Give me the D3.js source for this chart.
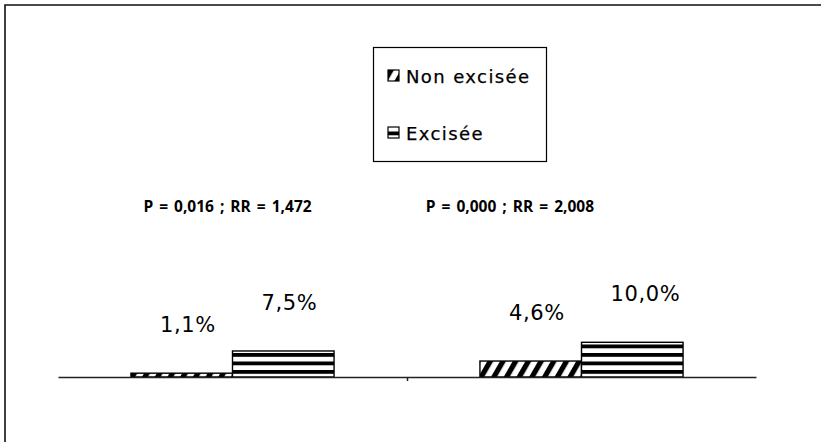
<!DOCTYPE html>
<html>
<head>
<meta charset="utf-8">
<script src="https://cdn.jsdelivr.net/npm/d3@7"></script>
<style>
  html, body { margin: 0; padding: 0; background: #fff; }
  svg { display: block; }
</style>
</head>
<body>
<svg id="chart" width="821" height="442"></svg>
<script>
// Prevalence by group, two series
const groups = ["Groupe A", "Groupe B"];
const seriesNames = ["Non excisée", "Excisée"];
const nonExcisee = [1.1, 4.6];
const excisee = [7.5, 10.0];
const statLabels = ["P = 0,016 ; RR = 1,472", "P = 0,000 ; RR = 2,008"];

const svg = d3.select("#chart");
const W = 821, H = 442;

// outer frame (top and left edges visible)
svg.append("path")
  .attr("d", `M5,${H + 5} L5,5 L${W + 5},5`)
  .attr("fill", "none").attr("stroke", "#111").attr("stroke-width", 1.6);

// patterns
const defs = svg.append("defs");
const diag = defs.append("pattern")
  .attr("id", "diag").attr("patternUnits", "userSpaceOnUse")
  .attr("width", 11).attr("height", 20)
  .attr("patternTransform", "rotate(30)");
diag.append("rect").attr("width", 11).attr("height", 20).attr("fill", "#fff");
diag.append("rect").attr("width", 5.2).attr("height", 20).attr("fill", "#000");

const horiz = defs.append("pattern")
  .attr("id", "horiz").attr("patternUnits", "userSpaceOnUse")
  .attr("width", 10).attr("height", 8.5).attr("y", 4.5);
horiz.append("rect").attr("width", 10).attr("height", 8.5).attr("fill", "#fff");
horiz.append("rect").attr("width", 10).attr("height", 3.8).attr("fill", "#000");

const fills = { "Non excisée": "url(#diag)", "Excisée": "url(#horiz)" };

// scales
const x0 = d3.scaleBand().domain(groups).range([58, 756])
  .paddingInner(0.418).paddingOuter(0.209);
const x1 = d3.scaleBand().domain(seriesNames).range([0, x0.bandwidth()]);
const y = d3.scaleLinear().domain([0, 40]).range([377, 238.2]);

const data = groups.map((g, i) => ({
  group: g,
  values: [
    { key: "Non excisée", value: nonExcisee[i] },
    { key: "Excisée", value: excisee[i] }
  ]
}));

const fr = d3.formatLocale({ decimal: ",", thousands: " ", grouping: [3], currency: ["", " €"] });
const fmt = v => fr.format(".1f")(v) + "%";

// bars
const gGroups = svg.selectAll("g.grp").data(data).join("g")
  .attr("class", "grp")
  .attr("transform", d => `translate(${x0(d.group)},0)`);

gGroups.selectAll("rect").data(d => d.values).join("rect")
  .attr("x", d => x1(d.key))
  .attr("y", d => y(d.value))
  .attr("width", x1.bandwidth())
  .attr("height", d => y(0) - y(d.value))
  .attr("fill", d => fills[d.key])
  .attr("stroke", "#000")
  .attr("stroke-width", 1.4);

// value labels
gGroups.selectAll("text.val").data(d => d.values).join("text")
  .attr("class", "val")
  .attr("x", d => x1(d.key) + 29)
  .attr("y", d => y(d.value) - 41)
  .attr("font-family", "DejaVu Sans")
  .attr("font-size", 21)
  .attr("letter-spacing", 0.6)
  .attr("fill", "#000")
  .text(d => fmt(d.value));

// category axis: baseline with a tick between groups
const xAxisScale = d3.scaleLinear().domain([0, groups.length]).range(x0.range());
svg.append("g")
  .attr("transform", `translate(0,${y(0)})`)
  .call(d3.axisBottom(xAxisScale).tickValues([1]).tickSize(4).tickSizeOuter(0).tickFormat(""))
  .call(g => g.selectAll("path, line").attr("stroke", "#222").attr("stroke-width", 1.5));

// statistics annotations
const statX = [x0(groups[0]) + x0.bandwidth() / 2 - 5, x0(groups[1]) + 30];
svg.selectAll("text.stat").data(statLabels).join("text")
  .attr("class", "stat")
  .attr("x", (d, i) => statX[i])
  .attr("y", 212)
  .attr("text-anchor", "middle")
  .attr("font-family", "Open Sans")
  .attr("font-weight", "bold")
  .attr("font-size", 15.5)
  .attr("word-spacing", 2)
  .attr("fill", "#000")
  .text(d => d);

// legend
const legend = svg.append("g");
legend.append("rect")
  .attr("x", 373.5).attr("y", 47.5).attr("width", 173).attr("height", 114)
  .attr("fill", "#fff").attr("stroke", "#000").attr("stroke-width", 1.2);
const items = legend.selectAll("g.item").data(seriesNames).join("g")
  .attr("class", "item")
  .attr("transform", (d, i) => `translate(388,${i === 0 ? 70 : 127})`);
items.append("rect")
  .attr("width", 11).attr("height", 11)
  .attr("fill", d => fills[d]).attr("stroke", "#000").attr("stroke-width", 1.2);
items.append("text")
  .attr("x", 18).attr("y", 12.5)
  .attr("font-family", "DejaVu Sans")
  .attr("font-size", 18)
  .attr("letter-spacing", 1.4)
  .attr("stroke", "#000").attr("stroke-width", 0.25)
  .attr("fill", "#000")
  .text(d => d);
</script>
</body>
</html>
